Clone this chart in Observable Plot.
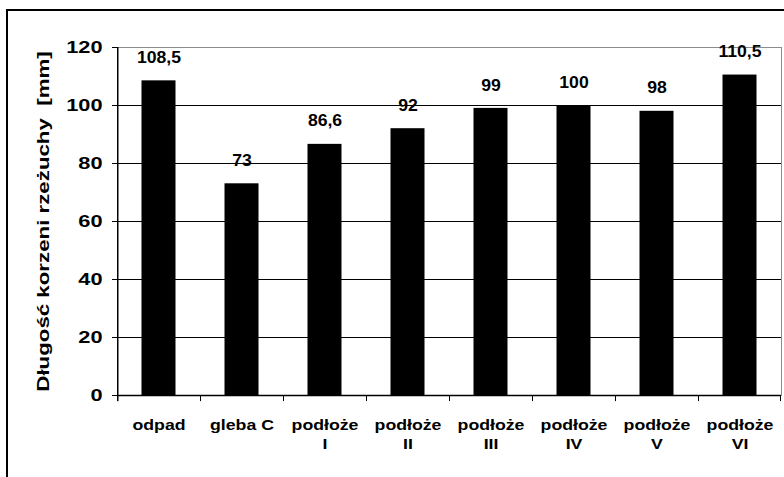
<!DOCTYPE html>
<html><head><meta charset="utf-8">
<script src="https://cdn.jsdelivr.net/npm/d3@7"></script>
<script src="https://cdn.jsdelivr.net/npm/@observablehq/plot@0.6"></script>
<style>
body{margin:0;background:#fff;}
#wrap{position:relative;width:784px;height:477px;overflow:hidden;}
#border{position:absolute;left:6px;top:9px;width:900px;height:600px;border-left:2px solid #000;border-top:2px solid #000;pointer-events:none;}
</style></head><body><div id="wrap"><div id="border"></div></div>
<script>
const categories = ["odpad", "gleba C", "podłoże I", "podłoże II", "podłoże III", "podłoże IV", "podłoże V", "podłoże VI"];
const xLabels = ["odpad", "gleba C", "podłoże\nI", "podłoże\nII", "podłoże\nIII", "podłoże\nIV", "podłoże\nV", "podłoże\nVI"];
const values = [108.5, 73, 86.6, 92, 99, 100, 98, 110.5];
const valueLabels = ["108,5", "73", "86,6", "92", "99", "100", "98", "110,5"];
const yTicks = [0, 20, 40, 60, 80, 100, 120];
const yTitle = "Długość korzeni rzeżuchy \u00a0[mm]";

const data = categories.map((c, i) => ({cat: c, value: values[i], label: valueLabels[i], xl: xLabels[i]}));
const first = [categories[0]];
const last = [categories[categories.length - 1]];

const chart = Plot.plot({
  width: 784,
  height: 477,
  marginLeft: 117,
  marginRight: 3,
  marginTop: 47,
  marginBottom: 82,
  style: {fontFamily: "'Liberation Sans', Arial, sans-serif", background: "transparent", color: "#000"},
  x: {domain: categories, padding: 0, axis: null},
  y: {domain: [0, 120], label: null, axis: null},
  marks: [
    Plot.frame({stroke: "#8c8c8c"}),
    Plot.ruleY(yTicks.filter(t => t > 0 && t < 120), {stroke: "#000", strokeWidth: 1}),
    Plot.barY(data, {x: "cat", y: "value", fill: "#000", insetLeft: 24.5, insetRight: 24.5}),
    Plot.ruleY([0], {stroke: "#000", strokeWidth: 1.5}),
    Plot.barY(first, {x: d => d, y1: -2.1, y2: 120, fill: "#000", insetRight: 81.5}),
    Plot.barY(categories, {x: d => d, y1: 0, y2: -2.1, fill: "#000", insetRight: 82}),
    Plot.barY(last, {x: d => d, y1: 0, y2: -2.1, fill: "#000", insetLeft: 82}),
    Plot.axisY(yTicks, {tickSize: 5, tickPadding: 10, fontSize: 17, fontWeight: "bold", label: null}),
    Plot.text(data, {x: "cat", y: "value", text: "label", dy: -23, fontSize: 16, fontWeight: "bold", fill: "#000"}),
    Plot.text(data, {x: "cat", y: 0, text: "xl", lineAnchor: "top", dy: 21, lineHeight: 1.27, fontSize: 15, fontWeight: "bold", fill: "#000"}),
    Plot.text([yTitle], {frameAnchor: "left", dx: -74, rotate: -90, textAnchor: "middle", fontSize: 16.5, fontWeight: "bold", fill: "#000"})
  ]
});
document.getElementById("wrap").prepend(chart);

// widen the glyphs to match the wide bold type of the reference
function stretch(g, factor) {
  g.querySelectorAll("text").forEach(t => {
    const tspans = t.querySelectorAll("tspan");
    const targets = tspans.length ? Array.from(tspans) : [t];
    targets.forEach(el => {
      const L = el.getComputedTextLength();
      if (L > 0) {
        el.setAttribute("textLength", (L * factor).toFixed(2));
        el.setAttribute("lengthAdjust", "spacingAndGlyphs");
      }
    });
  });
}
const svgEl = chart.tagName.toLowerCase() === "svg" ? chart : chart.querySelector("svg");
svgEl.querySelectorAll("g[aria-label]").forEach(g => {
  const a = g.getAttribute("aria-label") || "";
  const texts = Array.from(g.querySelectorAll("text")).map(t => t.textContent);
  if (a.includes("tick label")) stretch(g, 1.28);
  else if (texts.includes(valueLabels[0])) stretch(g, 1.1);
  else if (texts.includes(xLabels[0])) stretch(g, 1.18);
  else if (texts.some(t => t.startsWith("Długość"))) stretch(g, 1.35);
});
</script>
</body></html>
